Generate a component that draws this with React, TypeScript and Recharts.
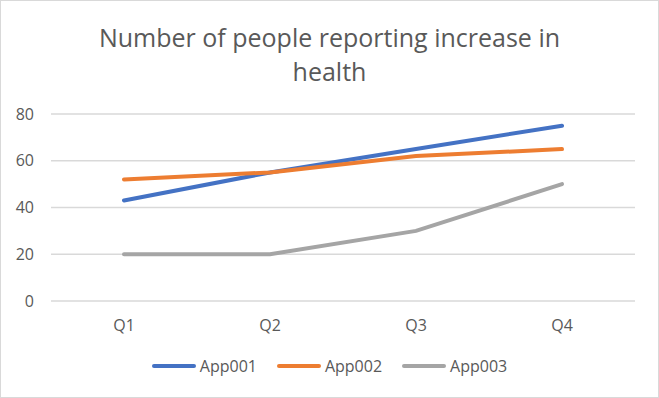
import { LineChart, Line, XAxis, YAxis, CartesianGrid, Legend } from 'recharts';

const quarters = ['Q1', 'Q2', 'Q3', 'Q4'];
const app001 = [43, 55, 65, 75];
const app002 = [52, 55, 62, 65];
const app003 = [20, 20, 30, 50];
const yTicks = [0, 20, 40, 60, 80];

const SERIES = [
  { key: 'App001', color: '#4472C4' },
  { key: 'App002', color: '#ED7D31' },
  { key: 'App003', color: '#A5A5A5' },
];

const data = quarters.map((q, i) => ({
  name: q,
  App001: app001[i],
  App002: app002[i],
  App003: app003[i],
}));

const FONT = '"Open Sans", "Liberation Sans", sans-serif';
const TEXT = '#595959';

const renderLegend = () => (
  <div style={{ display: 'flex', justifyContent: 'center', alignItems: 'center', fontFamily: FONT, fontSize: 16, color: TEXT }}>
    {SERIES.map((s) => (
      <div key={s.key} style={{ display: 'flex', alignItems: 'center', margin: '0 10px' }}>
        <span style={{ display: 'inline-block', width: 44, height: 4, borderRadius: 2, background: s.color, marginRight: 4 }} />
        <span>{s.key}</span>
      </div>
    ))}
  </div>
);

const App = () => {
  return (
    <div style={{ position: 'absolute', left: 0, top: 0, width: 659, height: 398, background: '#fff' }}>
      <div
        style={{
          position: 'absolute',
          left: 0,
          top: 0,
          width: 659,
          height: 398,
          boxSizing: 'border-box',
          border: '1px solid #d9d9d9',
          pointerEvents: 'none',
          zIndex: 2,
        }}
      />
      <div
        style={{
          position: 'absolute',
          top: 20,
          left: 0,
          width: 659,
          textAlign: 'center',
          fontFamily: FONT,
          fontSize: 25,
          lineHeight: '34px',
          color: TEXT,
          zIndex: 1,
        }}
      >
        Number of people reporting increase in
        <br />
        health
      </div>
      <LineChart width={659} height={398} data={data} margin={{ top: 114, right: 24, left: 0, bottom: 67 }}>
        <CartesianGrid stroke="#d9d9d9" strokeWidth={1.5} vertical={false} />
        <XAxis
          dataKey="name"
          axisLine={false}
          tickLine={false}
          padding={{ left: 73, right: 73 }}
          height={30}
          tickMargin={13}
          tick={{ fill: TEXT, fontSize: 16, fontFamily: FONT }}
        />
        <YAxis
          domain={[0, 80]}
          ticks={yTicks}
          width={51}
          axisLine={false}
          tickLine={false}
          tickMargin={11}
          tick={{ fill: TEXT, fontSize: 16, fontFamily: FONT }}
        />
        <Legend verticalAlign="middle" align="center" content={renderLegend} wrapperStyle={{ top: 355, left: 0, width: 659 }} />
        {SERIES.map((s) => (
          <Line
            key={s.key}
            type="linear"
            dataKey={s.key}
            stroke={s.color}
            strokeWidth={4}
            strokeLinecap="round"
            dot={false}
            activeDot={false}
            isAnimationActive={false}
          />
        ))}
      </LineChart>
    </div>
  );
};

export default App;
